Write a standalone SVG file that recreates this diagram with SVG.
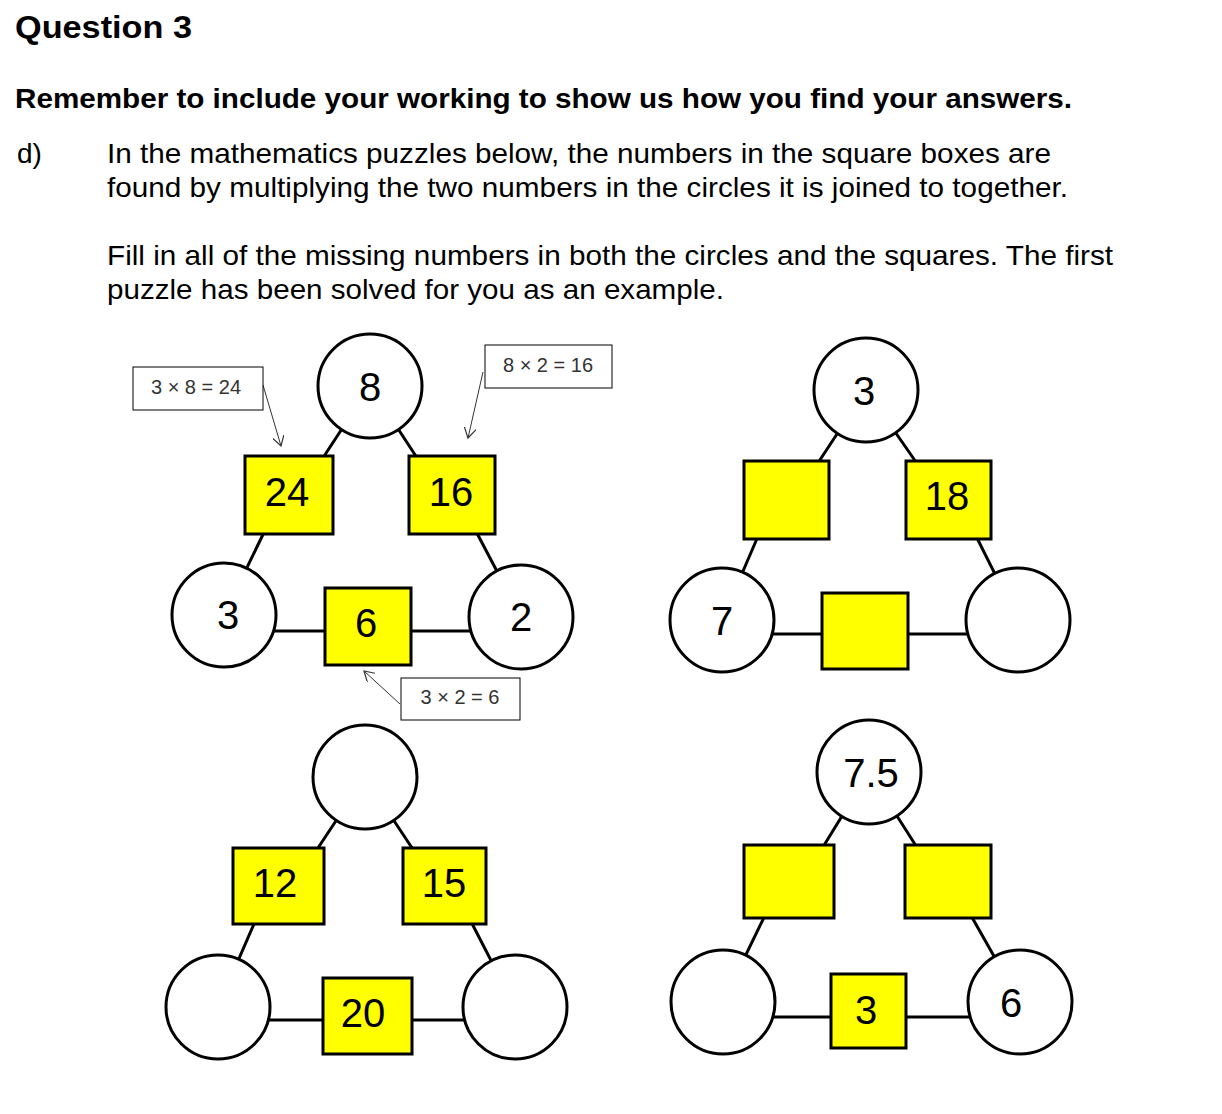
<svg xmlns="http://www.w3.org/2000/svg" width="1222" height="1114" viewBox="0 0 1222 1114">
<style>
text{font-family:"Liberation Sans",Arial,sans-serif;fill:#000}
.b{font-weight:bold}
.t{font-size:28px}
.c{fill:#fff;stroke:#000;stroke-width:3}
.s{fill:#ffff00;stroke:#000;stroke-width:3}
.l{stroke:#000;stroke-width:3;fill:none}
.n{font-size:40px;text-anchor:middle}
.cb{fill:#fff;stroke:#000;stroke-width:1}
.ct{font-size:20px;fill:#333;text-anchor:middle}
.a{stroke:#333;stroke-width:1;fill:none}
</style>
<defs><marker id="ar" markerWidth="12" markerHeight="12" refX="10" refY="6" orient="auto" markerUnits="userSpaceOnUse"><path d="M0,0 L10,6 L0,12" fill="none" stroke="#333" stroke-width="1.2"/></marker></defs>
<rect width="1222" height="1114" fill="#fff"/>
<text x="15" y="38" class="b" font-size="32" textLength="177" lengthAdjust="spacingAndGlyphs">Question 3</text>
<text x="15" y="108" class="b t" textLength="1057" lengthAdjust="spacingAndGlyphs">Remember to include your working to show us how you find your answers.</text>
<text x="17" y="163" class="t">d)</text>
<text x="107" y="163" class="t" textLength="944" lengthAdjust="spacingAndGlyphs">In the mathematics puzzles below, the numbers in the square boxes are</text>
<text x="107" y="197" class="t" textLength="961" lengthAdjust="spacingAndGlyphs">found by multiplying the two numbers in the circles it is joined to together.</text>
<text x="107" y="265" class="t" textLength="1006" lengthAdjust="spacingAndGlyphs">Fill in all of the missing numbers in both the circles and the squares. The first</text>
<text x="107" y="299" class="t" textLength="617" lengthAdjust="spacingAndGlyphs">puzzle has been solved for you as an example.</text>
<g id="connectors">
<path class="l" d="M370,386 L315,470 M270,520 L224,615 M370,386 L425,470 M470,520 L521,617 M224,631 H521"/>
<path class="l" d="M866,390 L810,475 M765,520 L722,620 M866,390 L925,475 M968,520 L1018,620 M722,634 H1018"/>
<path class="l" d="M365,777 L310,860 M260,910 L218,1007 M365,777 L420,860 M465,910 L515,1007 M218,1020 H515"/>
<path class="l" d="M869,772 L815,860 M770,905 L723,1002 M869,772 L925,860 M965,905 L1020,1002 M723,1017 H1020"/>
<path class="a" marker-end="url(#ar)" d="M263,385 L281,446"/>
<path class="a" marker-end="url(#ar)" d="M483,372 L468,438"/>
<path class="a" marker-end="url(#ar)" d="M400,704 L364,671"/>
</g>
<g id="p1">
<circle class="c" cx="370" cy="386" r="52"/><text class="n" x="370" y="401">8</text>
<rect class="s" x="245" y="456" width="88" height="78"/><text class="n" x="287" y="506">24</text>
<rect class="s" x="409" y="456" width="86" height="78"/><text class="n" x="451" y="506">16</text>
<circle class="c" cx="224" cy="615" r="52"/><text class="n" x="228" y="629">3</text>
<circle class="c" cx="521" cy="617" r="52"/><text class="n" x="521" y="631">2</text>
<rect class="s" x="325" y="588" width="86" height="77"/><text class="n" x="366" y="637">6</text>
</g>
<g id="callouts">
<rect class="cb" x="133" y="367" width="130" height="43"/><text class="ct" x="196" y="394">3 × 8 = 24</text>
<rect class="cb" x="485" y="345" width="127" height="43"/><text class="ct" x="548" y="372">8 × 2 = 16</text>
<rect class="cb" x="401" y="678" width="119" height="42"/><text class="ct" x="460" y="704">3 × 2 = 6</text>
</g>
<g id="p2">
<circle class="c" cx="866" cy="390" r="52"/><text class="n" x="864" y="405">3</text>
<rect class="s" x="744" y="461" width="85" height="78"/>
<rect class="s" x="906" y="461" width="85" height="78"/><text class="n" x="947" y="510">18</text>
<circle class="c" cx="722" cy="620" r="52"/><text class="n" x="722" y="635">7</text>
<circle class="c" cx="1018" cy="620" r="52"/>
<rect class="s" x="822" y="593" width="86" height="76"/>
</g>
<g id="p3">
<circle class="c" cx="365" cy="777" r="52"/>
<rect class="s" x="233" y="848" width="91" height="76"/><text class="n" x="275" y="897">12</text>
<rect class="s" x="403" y="848" width="83" height="76"/><text class="n" x="444" y="897">15</text>
<circle class="c" cx="218" cy="1007" r="52"/>
<circle class="c" cx="515" cy="1007" r="52"/>
<rect class="s" x="323" y="978" width="89" height="76"/><text class="n" x="363" y="1027">20</text>
</g>
<g id="p4">
<circle class="c" cx="869" cy="772" r="52"/><text class="n" x="871" y="787">7.5</text>
<rect class="s" x="744" y="845" width="90" height="73"/>
<rect class="s" x="905" y="845" width="86" height="73"/>
<circle class="c" cx="723" cy="1002" r="52"/>
<circle class="c" cx="1020" cy="1002" r="52"/><text class="n" x="1011" y="1017">6</text>
<rect class="s" x="831" y="974" width="75" height="74"/><text class="n" x="866" y="1024">3</text>
</g>
</svg>
